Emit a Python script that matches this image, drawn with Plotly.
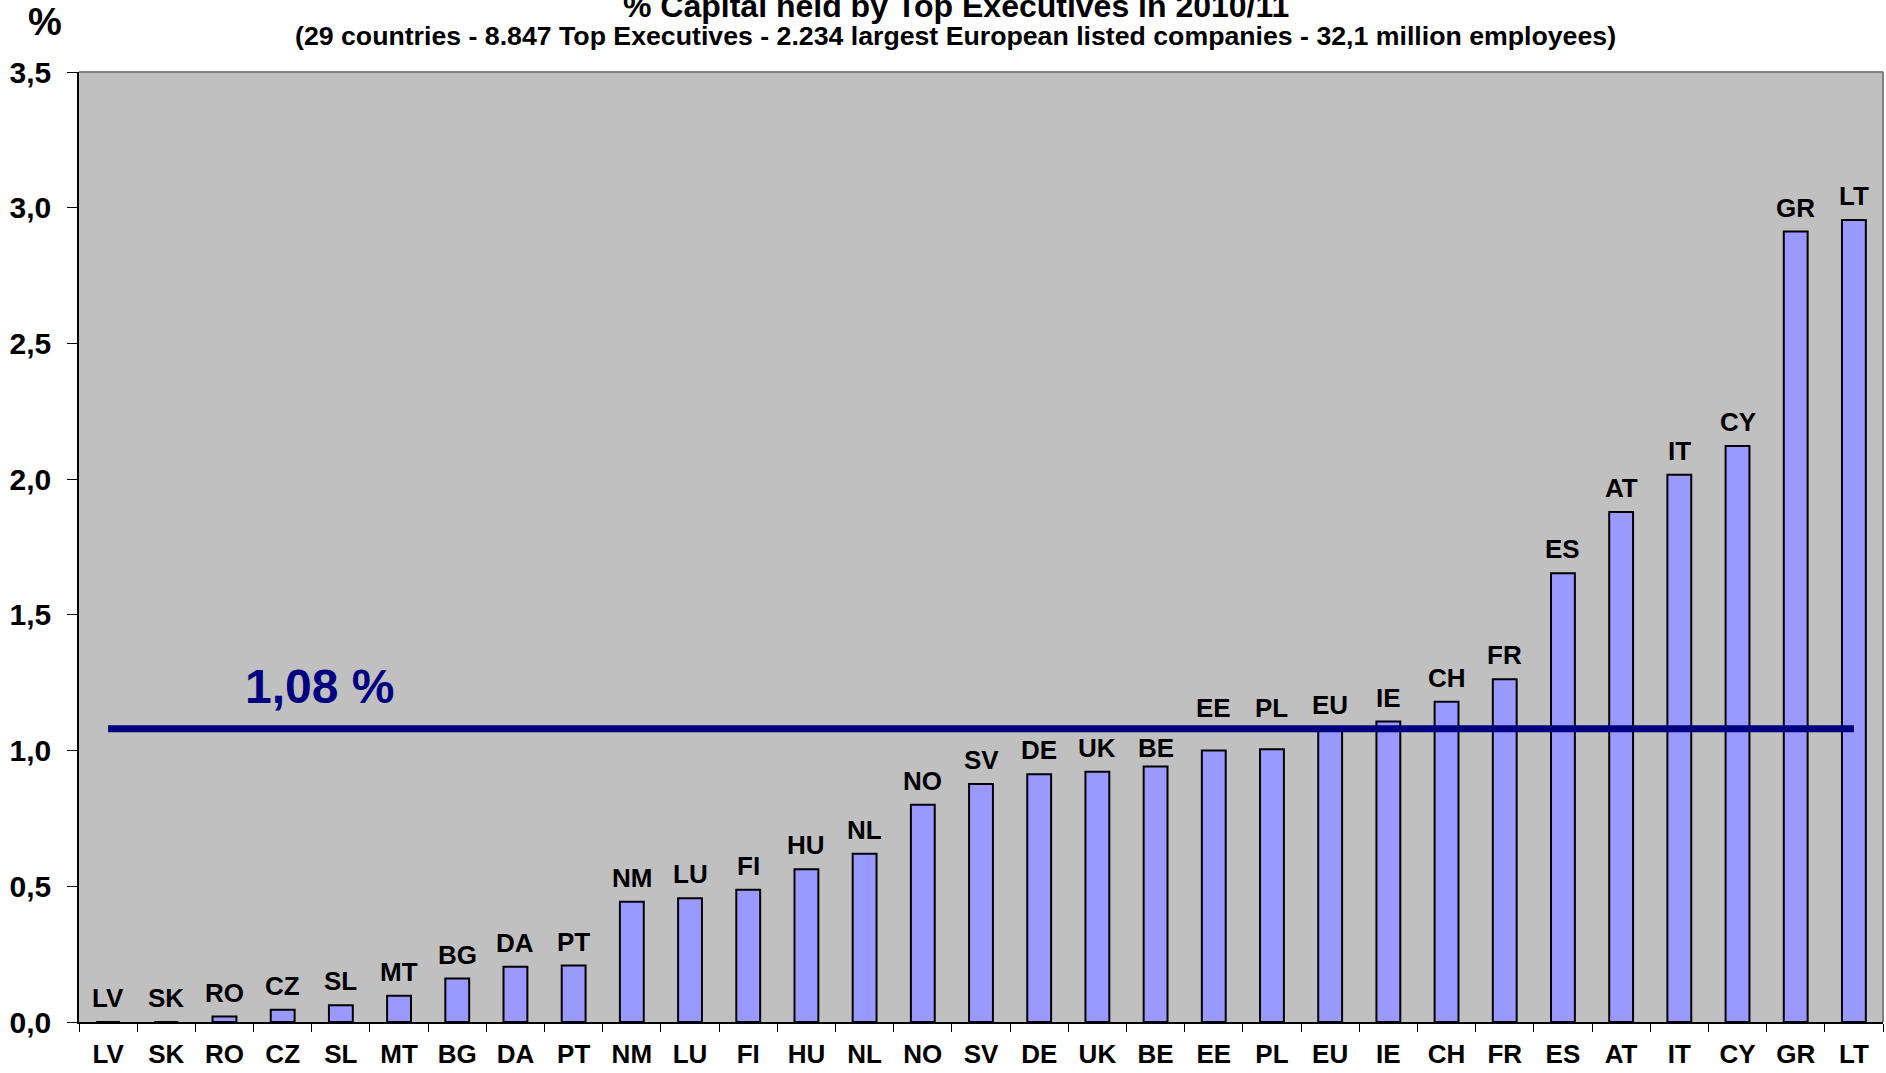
import plotly.graph_objs as go

# % of capital held by top executives, 2010/11
countries = ["LV", "SK", "RO", "CZ", "SL", "MT", "BG", "DA", "PT", "NM", "LU",
             "FI", "HU", "NL", "NO", "SV", "DE", "UK", "BE", "EE", "PL", "EU",
             "IE", "CH", "FR", "ES", "AT", "IT", "CY", "GR", "LT"]
capital_pct = [0.0, 0.0, 0.02, 0.045, 0.062, 0.097, 0.16, 0.204, 0.208, 0.443, 0.456,
               0.487, 0.563, 0.62, 0.80, 0.877, 0.913, 0.922, 0.941, 1.0, 1.005, 1.08,
               1.107, 1.18, 1.263, 1.653, 1.879, 2.016, 2.122, 2.912, 2.955]
eu_average = 1.08

title = "% Capital held by Top Executives in 2010/11"
subtitle = ("(29 countries - 8.847 Top Executives - 2.234 largest European "
            "listed companies - 32,1 million employees)")

FONT = "Liberation Sans, Arial, sans-serif"
NAVY = "#000080"

# plot area is 950 px high for 3.5 units
px_per_unit = 950 / 3.5
label_gap = 24

bars = go.Bar(
    x=countries,
    y=capital_pct,
    width=0.41,
    marker=dict(color="#9999ff", line=dict(color="black", width=2)),
    showlegend=False,
    hoverinfo="x+y",
)

avg_line = go.Scatter(
    x=[countries[0], countries[-1]],
    y=[eu_average, eu_average],
    mode="lines",
    line=dict(color=NAVY, width=7),
    showlegend=False,
    hoverinfo="skip",
)

annotations = []
for c, v in zip(countries, capital_pct):
    shift = label_gap
    gap_to_line = (eu_average - v) * px_per_unit - label_gap
    if abs(gap_to_line) < 8:
        # label would sit on the average line: lift it above
        shift = (eu_average - v) * px_per_unit + 21
    elif 0 < gap_to_line < 18:
        # line just above the label: tuck the label closer to its bar
        shift = label_gap - 5
    annotations.append(dict(
        x=c, y=v, text=c, showarrow=False, yanchor="middle", yshift=shift,
        font=dict(family=FONT, size=26, color="black", weight="bold"),
    ))

annotations += [
    dict(x=3.64, y=eu_average, yshift=42, text=("%.2f" % eu_average).replace(".", ",") + " %",
         showarrow=False, xanchor="center", yanchor="middle",
         font=dict(family=FONT, size=48, color=NAVY, weight="bold")),
    dict(xref="paper", yref="paper", x=0.486, y=1, yshift=66, text=title,
         showarrow=False, xanchor="center", yanchor="middle",
         font=dict(family=FONT, size=32, color="black", weight="bold")),
    dict(xref="paper", yref="paper", x=0.486, y=1, yshift=36, text=subtitle,
         showarrow=False, xanchor="center", yanchor="middle",
         font=dict(family=FONT, size=26.7, color="black", weight="bold")),
    dict(xref="paper", yref="paper", x=0, xshift=-34, y=1, yshift=50, text="%",
         showarrow=False, xanchor="center", yanchor="middle",
         font=dict(family=FONT, size=38, color="black", weight="bold")),
]

layout = go.Layout(
    width=1886,
    height=1073,
    margin=dict(l=79, r=3, t=72, b=51),
    paper_bgcolor="white",
    plot_bgcolor="#c0c0c0",
    separators=",.",
    font=dict(family=FONT, color="black"),
    xaxis=dict(
        type="category",
        range=[-0.5, len(countries) - 0.5],
        tickson="boundaries",
        ticks="outside",
        ticklen=8,
        tickcolor="black",
        showline=True,
        linecolor="black",
        linewidth=1.5,
        showgrid=False,
        ticklabelstandoff=8,
        tickfont=dict(family=FONT, size=26, color="black", weight="bold"),
    ),
    yaxis=dict(
        range=[0, 3.5],
        dtick=0.5,
        tickformat=".1f",
        ticks="outside",
        ticklen=10,
        tickcolor="black",
        showline=True,
        linecolor="black",
        linewidth=1.5,
        showgrid=False,
        zeroline=False,
        ticklabelstandoff=10,
        tickfont=dict(family=FONT, size=30, color="black", weight="bold"),
    ),
    shapes=[
        dict(type="line", xref="paper", yref="paper", x0=0, y0=1, x1=1, y1=1,
             line=dict(color="#808080", width=2)),
        dict(type="line", xref="paper", yref="paper", x0=1, y0=0, x1=1, y1=1,
             line=dict(color="#808080", width=2)),
    ],
    annotations=annotations,
)

fig = go.Figure(data=[bars, avg_line], layout=layout)
fig.write_html("out.html",
               config={"displayModeBar": False},
               post_script="document.body.style.margin='0';document.body.style.overflow='hidden';")
